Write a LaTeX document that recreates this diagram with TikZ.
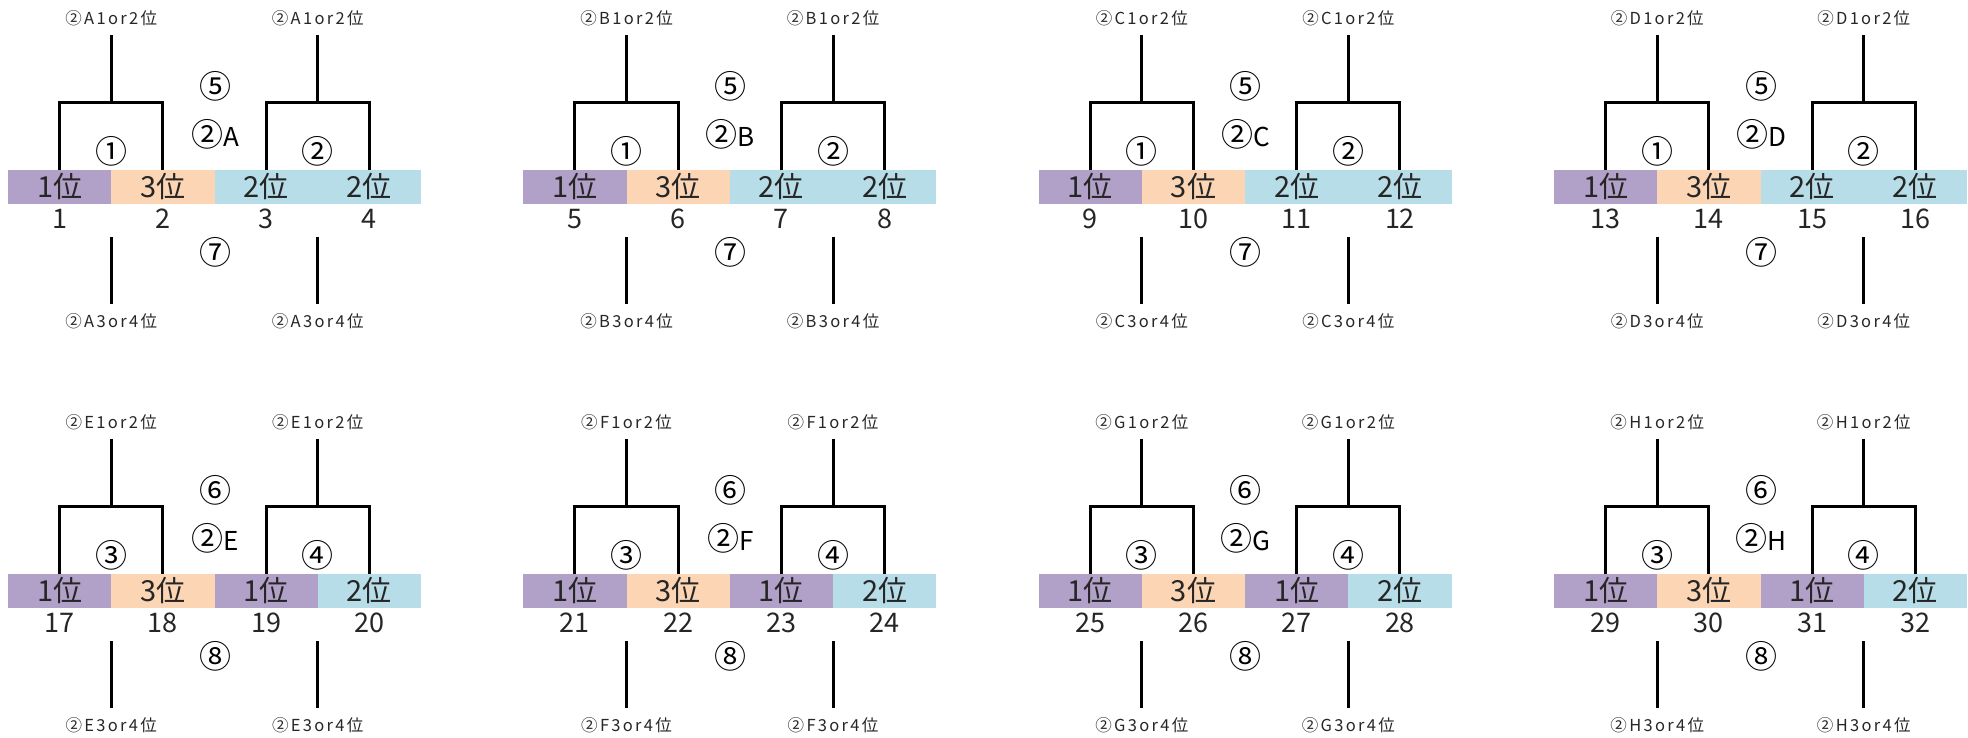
\documentclass[tikz,border=0pt]{standalone}
\usepackage{fontspec}
\setmainfont{Noto Sans CJK JP}
\newfontfamily\lblfont[LetterSpace=14]{Noto Sans CJK JP}
\definecolor{cP}{HTML}{B1A0C7}
\definecolor{cO}{HTML}{FCD5B4}
\definecolor{cB}{HTML}{B7DEE8}
\begin{document}
\begin{tikzpicture}[x=1pt,y=-1pt,
  cell/.style={minimum width=103.25pt, minimum height=33.5pt, inner sep=0pt, outer sep=0pt, text=black!85, font=\fontsize{29}{29}\selectfont},
  num/.style={inner sep=0pt, text=black!85, font=\fontsize{27}{27}\selectfont},
  tlabel/.style={inner sep=0pt, text=black!85, font=\lblfont\fontsize{16.5}{16.5}\selectfont},
  circ/.style={inner sep=0pt, font=\fontsize{32}{32}\selectfont},
  br/.style={line width=3pt, black}]
\useasboundingbox (0,0) rectangle (1968,737);
\foreach \k/\px/\py/\L/\ca/\ta/\up/\dn/\qa/\qb in {
  0/8/0/A/cB/2/⑤/⑦/①/②,
  1/523.3/0/B/cB/2/⑤/⑦/①/②,
  2/1038.6/0/C/cB/2/⑤/⑦/①/②,
  3/1554/0/D/cB/2/⑤/⑦/①/②,
  4/8/404/E/cP/1/⑥/⑧/③/④,
  5/523.3/404/F/cP/1/⑥/⑧/③/④,
  6/1038.6/404/G/cP/1/⑥/⑧/③/④,
  7/1554/404/H/cP/1/⑥/⑧/③/④}{
  \pgfmathtruncatemacro\na{4*\k+1}
  \pgfmathtruncatemacro\nb{4*\k+2}
  \pgfmathtruncatemacro\nc{4*\k+3}
  \pgfmathtruncatemacro\nd{4*\k+4}
  % bar cells
  \node[cell, fill=cP] (c\k-1) at (\px+51.625, \py+186.75) {1位};
  \node[cell, fill=cO] (c\k-2) at (\px+154.875, \py+186.75) {3位};
  \node[cell, fill=\ca] (c\k-3) at (\px+258.125, \py+186.75) {\ta 位};
  \node[cell, fill=cB] (c\k-4) at (\px+361.375, \py+186.75) {2位};
  % numbers
  \node[num] (n\k-1) at (\px+51.625, \py+219) {\na};
  \node[num] (n\k-2) at (\px+154.875, \py+219) {\nb};
  \node[num] (n\k-3) at (\px+258.125, \py+219) {\nc};
  \node[num] (n\k-4) at (\px+361.375, \py+219) {\nd};
  % top / bottom labels
  \node[tlabel] (t\k-1) at (\px+103.25, \py+18) {②\L 1or2位};
  \node[tlabel] (t\k-2) at (\px+309.75, \py+18) {②\L 1or2位};
  \node[tlabel] (b\k-1) at (\px+103.25, \py+321) {②\L 3or4位};
  \node[tlabel] (b\k-2) at (\px+309.75, \py+321) {②\L 3or4位};
  % circled labels
  \node[circ] (u\k) at (\px+207, \py+86) {\up};
  \node[circ] (g\k) at (\px+207, \py+134) {②{\fontsize{26}{26}\selectfont\L}};
  \node[circ] (d\k) at (\px+207, \py+252) {\dn};
  \node[circ] (qa\k) at (\px+103.25, \py+151) {\qa};
  \node[circ] (qb\k) at (\px+309.75, \py+151) {\qb};
  % joints
  \coordinate (j\k-1) at (\px+103.25, \py+102);
  \coordinate (j\k-2) at (\px+309.75, \py+102);
  \coordinate (e\k-1) at (\px+103.25, \py+35);
  \coordinate (e\k-2) at (\px+309.75, \py+35);
  \coordinate (s\k-1) at (\px+103.25, \py+237);
  \coordinate (s\k-2) at (\px+309.75, \py+237);
  \coordinate (f\k-1) at (\px+103.25, \py+304);
  \coordinate (f\k-2) at (\px+309.75, \py+304);
  % brackets
  \draw[br] (c\k-1.north) |- (j\k-1) -| (c\k-2.north);
  \draw[br] (c\k-3.north) |- (j\k-2) -| (c\k-4.north);
  \draw[br] (j\k-1) -- (e\k-1);
  \draw[br] (j\k-2) -- (e\k-2);
  \draw[br] (s\k-1) -- (f\k-1);
  \draw[br] (s\k-2) -- (f\k-2);
}
\end{tikzpicture}
\end{document}
